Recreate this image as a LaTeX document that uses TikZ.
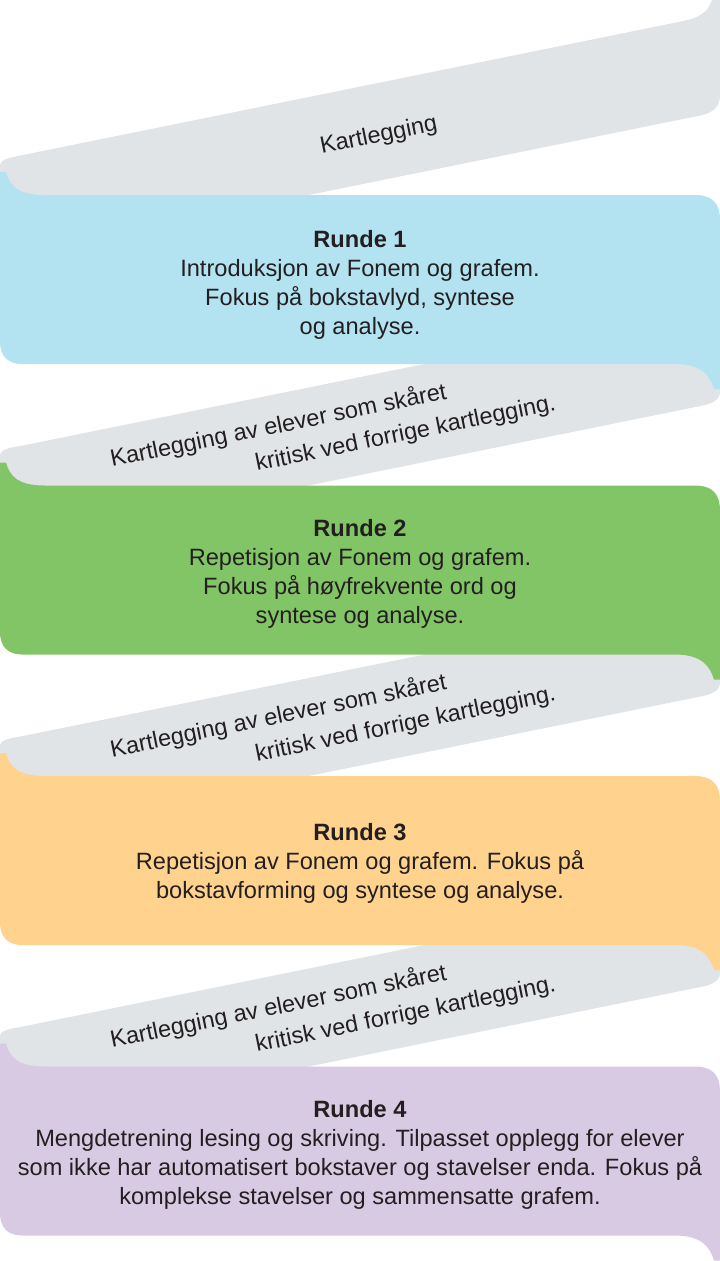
\documentclass[tikz,border=0pt]{standalone}
\usepackage{fontspec}
\setmainfont{Liberation Sans}
\definecolor{ribgray}{HTML}{E1E4E7}
\definecolor{ribblue}{HTML}{B3E2F1}
\definecolor{ribgreen}{HTML}{82C566}
\definecolor{riborange}{HTML}{FFD38E}
\definecolor{ribpurple}{HTML}{D9CAE3}
\definecolor{txt}{HTML}{231F20}
\begin{document}
\begin{tikzpicture}[x=1pt,y=-1pt,
  bandtext/.style={text=txt, font=\fontsize{23.6}{28.7}\selectfont, align=center, anchor=base, inner sep=0pt},
  graytext/.style={text=txt, font=\fontsize{23.5}{28.7}\selectfont, anchor=base west, rotate=11.5, inner sep=0pt}]
\useasboundingbox (0,0) rectangle (720,1261);

% top grey ribbon
\fill[ribgray] (0,176) -- (0,165) .. controls (0,161) and (6,158) .. (20,155.6) -- (680,21.7)
  .. controls (700,18) and (708,12) .. (712,0) -- (720,0) -- (720,95)
  .. controls (720,108) and (712,114) .. (695,116.6) -- (0,257.7) -- cycle;

% slanted grey ribbons
\foreach \dy in {0,290.5,581}{
  \fill[ribgray, shift={(0,\dy)}] (0,475) -- (0,455) .. controls (0,451) and (6,448) .. (20,446.1)
    -- (720,304) -- (720,392) .. controls (720,400) and (712,404) .. (700,406.1) -- (0,548.2) -- cycle;
}

% coloured ribbons
\foreach \dy/\col in {0/ribblue,290.5/ribgreen,581/riborange,871.5/ribpurple}{
  \fill[\col, shift={(0,\dy)}] (0,172) -- (6,172) .. controls (10,186) and (18,195) .. (45,195)
    -- (695,195) .. controls (712,195) and (720,203) .. (720,220) -- (720,389) -- (714,389)
    .. controls (710,376) and (702,364) .. (675,364) -- (22,364)
    .. controls (8,364) and (0,356) .. (0,342) -- cycle;
}

% grey texts
\node[graytext, anchor=base] (k0) at (380,142) {Kartlegging};
\node[graytext] (k1a) at (112,467) {Kartlegging av elever som skåret};
\node[graytext] (k1b) at (257,471) {kritisk ved forrige kartlegging.};
\node[graytext] (k2a) at (112,757.5) {Kartlegging av elever som skåret};
\node[graytext] (k2b) at (257,761.5) {kritisk ved forrige kartlegging.};
\node[graytext] (k3a) at (112,1048) {Kartlegging av elever som skåret};
\node[graytext] (k3b) at (257,1052) {kritisk ved forrige kartlegging.};

% band texts (base anchor = baseline of last line)
\node[bandtext] (r1) at (360,334) {\textbf{Runde 1}\\Introduksjon av Fonem og grafem.\\Fokus på bokstavlyd, syntese\\og analyse.};
\node[bandtext] (r2) at (360,623) {\textbf{Runde 2}\\Repetisjon av Fonem og grafem.\\Fokus på høyfrekvente ord og\\syntese og analyse.};
\node[bandtext] (r3) at (360,898) {\textbf{Runde 3}\\Repetisjon av Fonem og grafem. Fokus på\\bokstavforming og syntese og analyse.};
\node[bandtext] (r4) at (360,1204) {\textbf{Runde 4}\\Mengdetrening lesing og skriving. Tilpasset opplegg for elever\\som ikke har automatisert bokstaver og stavelser enda. Fokus på\\komplekse stavelser og sammensatte grafem.};
\end{tikzpicture}
\end{document}
